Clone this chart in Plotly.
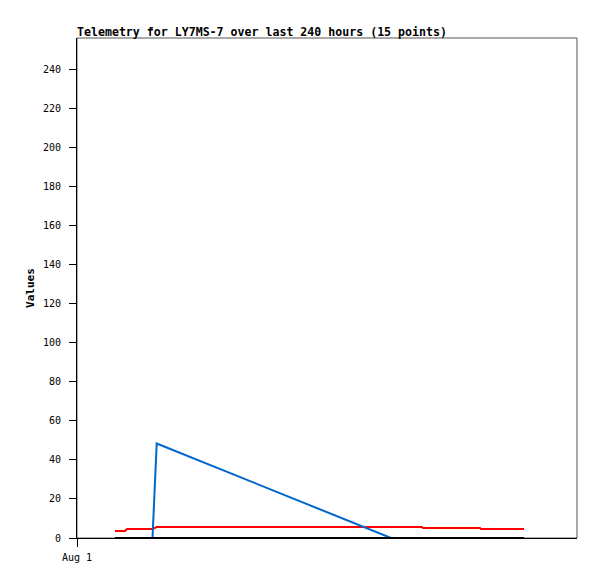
import plotly.graph_objects as go

times = [
    "2024-08-01 18:14", "2024-08-01 23:02", "2024-08-02 00:00", "2024-08-02 12:14",
    "2024-08-02 14:16", "2024-08-07 06:43", "2024-08-07 21:36", "2024-08-07 22:05",
    "2024-08-09 01:26", "2024-08-09 01:55", "2024-08-09 22:34",
]
red_vals = [3.6, 3.6, 4.6, 4.6, 5.6, 5.6, 5.6, 5.1, 5.1, 4.6, 4.6]
blue_vals = [0, 0, 0, 0, 48.4, 0, 0, 0, 0, 0, 0]
black_vals = [0, 0, 0, 0, 0, 0, 0, 0, 0, 0, 0]

y_ticks = list(range(0, 241, 20))
x_tickvals = ["2024-08-01 00:00"]
x_ticktext = ["Aug 1"]

FONT = "DejaVu Sans Mono"
W, H = 581, 563

fig = go.Figure()
fig.add_trace(go.Scatter(x=times, y=red_vals, mode="lines",
                         line=dict(color="#ff0000", width=2), showlegend=False))
fig.add_trace(go.Scatter(x=times, y=blue_vals, mode="lines",
                         line=dict(color="#0066cc", width=2), showlegend=False))
fig.add_trace(go.Scatter(x=times, y=black_vals, mode="lines",
                         line=dict(color="#000000", width=2), showlegend=False))

fig.update_layout(
    width=W, height=H,
    margin=dict(l=69, r=W - 569, t=30, b=H - 530),
    paper_bgcolor="white", plot_bgcolor="white",
    font=dict(family=FONT, size=10, color="black"),
    title=dict(text="<b>Telemetry for LY7MS-7 over last 240 hours (15 points)</b>",
               x=69 / W, xanchor="left", y=1 - 24 / H, yanchor="middle",
               font=dict(family=FONT, size=11.6, color="black")),
    xaxis=dict(range=["2024-08-01 00:00", "2024-08-11 00:00"],
               tickvals=x_tickvals, ticktext=x_ticktext,
               ticks="outside", ticklen=8, tickwidth=1, tickcolor="black",
               showgrid=False, zeroline=False, showline=True, linecolor="black",
               linewidth=1, tickfont=dict(family=FONT, size=10),
               ticklabelstandoff=2, automargin=False),
    yaxis=dict(range=[0, 256], tickvals=y_ticks,
               ticks="outside", ticklen=7, tickwidth=1, tickcolor="black",
               showgrid=False, zeroline=False, showline=True, linecolor="black",
               linewidth=1, tickfont=dict(family=FONT, size=10),
               ticklabelstandoff=6, automargin=False,
               title=dict(text="<b>Values</b>", standoff=6,
                          font=dict(family=FONT, size=11))),
    shapes=[dict(type="rect", xref="paper", yref="paper", x0=0, x1=1, y0=0, y1=1,
                 line=dict(color="#555555", width=1), fillcolor="rgba(0,0,0,0)",
                 layer="below")],
)

fig.write_html("out.html")
